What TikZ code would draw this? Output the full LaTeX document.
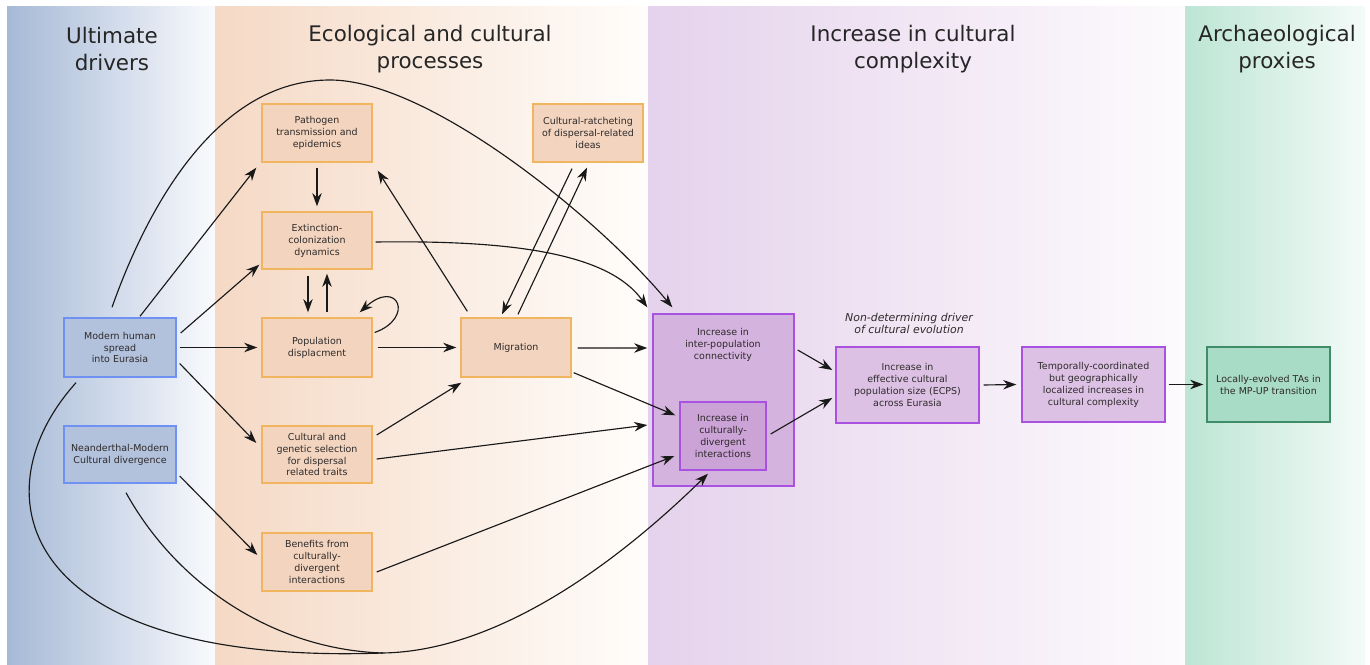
\documentclass[tikz,border=0pt]{standalone}
\usepackage{fontspec}
\setmainfont{DejaVu Sans}
\usetikzlibrary{arrows.meta,calc}
\definecolor{txt}{HTML}{2E2A2A}
\definecolor{orfill}{HTML}{F3D5BF}
\definecolor{ordraw}{HTML}{F0B55E}
\definecolor{blfill}{HTML}{B2C1DC}
\definecolor{bldraw}{HTML}{6F92F2}
\definecolor{pubig}{HTML}{D4B3DE}
\definecolor{puin}{HTML}{CCA3D7}
\definecolor{pufill}{HTML}{DCC1E5}
\definecolor{pudraw}{HTML}{A952E2}
\definecolor{grfill}{HTML}{A9DCC6}
\definecolor{grdraw}{HTML}{3F8D66}
\tikzset{
  box/.style={rectangle, line width=0.8pt, text=txt, align=center, inner sep=0pt,
    font=\fontsize{5.4}{6.8}\selectfont},
  orbox/.style={box, fill=orfill, draw=ordraw, minimum width=2.2cm, minimum height=1.16cm},
  blbox/.style={box, fill=blfill, draw=bldraw, minimum width=2.24cm, minimum height=1.16cm},
  pubox/.style={box, fill=pufill, draw=pudraw},
  title/.style={align=center, text=black!85, font=\fontsize{12.2}{15.3}\selectfont},
  arr/.style={draw=black!90, line width=0.65pt, -{Stealth[length=7.5pt,width=5.4pt]}},
  ln/.style={draw=black!90, line width=0.65pt}
}
\begin{document}
\begin{tikzpicture}[x=0.02cm,y=-0.02cm]
\useasboundingbox (0,0) rectangle (1370,665);
\fill[white] (0,0) rectangle (1370,665);
% background bands
\shade[left color={rgb,255:red,166;green,185;blue,214}, right color={rgb,255:red,249;green,250;blue,253}] (7,7) rectangle (215,665);
\shade[left color={rgb,255:red,245;green,217;blue,197}, right color={rgb,255:red,255;green,253;blue,251}] (215,7) rectangle (648,665);
\shade[left color={rgb,255:red,229;green,210;blue,236}, right color={rgb,255:red,253;green,251;blue,253}] (648,7) rectangle (1185,665);
\shade[left color={rgb,255:red,188;green,229;blue,212}, right color={rgb,255:red,244;green,251;blue,248}] (1185,7) rectangle (1365,665);
% titles
\node[title] (t1) at (112,49) {Ultimate\\drivers};
\node[title] (t2) at (430,49) {Ecological and cultural\\processes};
\node[title] (t3) at (913,49) {Increase in cultural\\complexity};
\node[title] (t4) at (1277,49) {Archaeological\\proxies};
% nodes
\node[blbox, minimum height=1.18cm] (mh) at (120,347.5) {Modern human\\spread\\into Eurasia};
\node[blbox, minimum height=1.14cm] (nd) at (120,454.5) {Neanderthal-Modern\\Cultural divergence};
\node[orbox] (path) at (317,133) {Pathogen\\transmission and\\epidemics};
\node[orbox, minimum height=1.14cm] (ext) at (317,240.5) {Extinction-\\colonization\\dynamics};
\node[orbox, minimum height=1.18cm] (pop) at (317,347.5) {Population\\displacment};
\node[orbox, minimum height=1.14cm] (sel) at (317,454.5) {Cultural and\\genetic selection\\for dispersal\\related traits};
\node[orbox] (ben) at (317,562) {Benefits from\\culturally-\\divergent\\interactions};
\node[orbox, minimum height=1.18cm] (mig) at (516,347.5) {Migration};
\node[orbox] (rat) at (588,133) {Cultural-ratcheting\\of dispersal-related\\ideas};
\node[box, fill=pubig, draw=pudraw, minimum width=2.82cm, minimum height=3.44cm] (big) at (723.5,400) {};
\node[box] (bigtext) at (723,345) {Increase in\\inter-population\\connectivity};
\node[box, fill=puin, draw=pudraw, minimum width=1.72cm, minimum height=1.36cm] (inner) at (723,436) {Increase in\\culturally-\\divergent\\interactions};
\node[pubox, minimum width=2.86cm, minimum height=1.52cm] (ecps) at (907.5,385) {Increase in\\effective cultural\\population size (ECPS)\\across Eurasia};
\node[pubox, minimum width=2.86cm, minimum height=1.5cm] (temp) at (1093.5,384.5) {Temporally-coordinated\\but geographically\\localized increases in\\cultural complexity};
\node[box, fill=grfill, draw=grdraw, minimum width=2.46cm, minimum height=1.5cm] (loc) at (1268.5,384.5) {Locally-evolved TAs in\\the MP-UP transition};
\node[align=center, text=txt, font=\fontsize{6.2}{7.2}\selectfont\itshape] (ndlab) at (909,323.5) {Non-determining driver\\of cultural evolution};
\coordinate (merge) at (383,653);
% connectors from Modern human
\draw[arr] ($(mh.north)+(20,-1)$) -- ($(path.south west)+(-5,5)$);
\draw[arr] ($(mh.east)+(4,-14.5)$) -- ($(ext.south west)+(-2,-5)$);
\draw[arr] ($(mh.east)+(3,0)$) -- ($(pop.west)+(-4,0)$);
\draw[arr] ($(mh.east)+(3,16)$) -- ($(sel.west)+(-5,-11.5)$);
\draw[arr] ($(mh.north)+(-8,-10)$) .. controls (150,200) and (220,80) .. (330,80)
  .. controls (430,80) and (600,220) .. ($(big.north west)+(20,-6)$);
\draw[arr] ($(mh.south)+(-44,5)$) .. controls (-25,495) and (20,666) .. (merge)
  .. controls (500,651) and (620,560) .. ($(inner.south)+(-15,3)$);
% Neanderthal
\draw[arr] ($(nd.east)+(3,21.5)$) -- ($(ben.west)+(-4,-7)$);
\draw[ln] ($(nd.south)+(6,9)$) .. controls (180,590) and (280,650) .. (merge);
% orange column
\draw[arr] ($(path.south)+(0,5)$) -- ($(ext.north)+(0,-5)$);
\draw[arr] ($(ext.south)+(-9,6)$) -- ($(pop.north)+(-9,-5)$);
\draw[arr] ($(pop.north)+(10,-5)$) -- ($(ext.south)+(10,4)$);
\draw[arr] ($(pop.east)+(2,-15)$) .. controls (415,318) and (398,278) .. ($(pop.north east)+(-13,-5)$);
\draw[arr] ($(pop.east)+(5,0)$) -- ($(mig.west)+(-4,0)$);
\draw[arr] ($(ext.east)+(3,1.5)$) .. controls (520,240) and (610,255) .. ($(big.north west)+(-5,-6)$);
\draw[arr] ($(mig.north west)+(7,-6)$) -- ($(path.south east)+(5,8)$);
\draw[arr] ($(rat.south)+(-16,6)$) -- ($(mig.north)+(-14,-3)$);
\draw[arr] ($(mig.north)+(2,-3)$) -- ($(rat.south)+(-1,5)$);
\draw[arr] ($(sel.east)+(4,-19.5)$) -- ($(mig.south west)+(1,5)$);
\draw[arr] ($(sel.east)+(4,4.5)$) -- ($(big.west)+(-5,25)$);
\draw[arr] ($(ben.east)+(4,10)$) -- ($(inner.west)+(-5,20)$);
\draw[arr] ($(mig.east)+(6,0.5)$) -- ($(big.west)+(-5,-52)$);
\draw[arr] ($(mig.south east)+(2,-5)$) -- ($(inner.north west)+(-4,14)$);
% purple / green
\draw[arr] ($(big.east)+(3,-50)$) -- ($(ecps.west)+(-3,-15)$);
\draw[arr] ($(inner.east)+(4,-2)$) -- ($(ecps.west)+(-3,13)$);
\draw[arr] ($(ecps.east)+(4,0)$) -- ($(temp.west)+(-5,0)$);
\draw[arr] ($(temp.east)+(3,0)$) -- ($(loc.west)+(-3,0)$);
\end{tikzpicture}
\end{document}
